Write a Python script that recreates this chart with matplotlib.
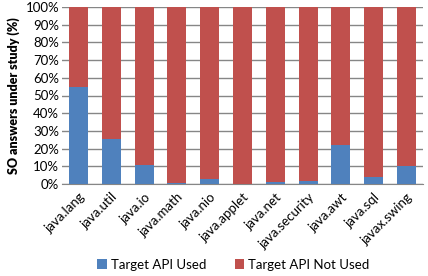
import matplotlib
matplotlib.use("Agg")
import matplotlib.pyplot as plt
import numpy as np

packages = ["java.lang", "java.util", "java.io", "java.math", "java.nio", "java.applet",
            "java.net", "java.security", "java.awt", "java.sql", "javax.swing"]
used = [55, 25.5, 10.5, 0.5, 3, 0, 1.2, 1.7, 22, 4, 10]
not_used = [100 - u for u in used]

plt.rcParams['font.family'] = ['Lato', 'DejaVu Sans']

fig = plt.figure(figsize=(4.28, 2.76), dpi=100)
ax = fig.add_axes([62/428, 1 - 184/276, 361/428, 177/276])

x = np.arange(len(packages))
ax.bar(x, used, width=0.58, color='#4f81bd', label='Target API Used', zorder=3)
ax.bar(x, not_used, bottom=used, width=0.58, color='#c0504d', label='Target API Not Used', zorder=3)

ax.set_xlim(-0.5, len(packages) - 0.5)
ax.set_ylim(0, 100)
ax.set_yticks(range(0, 101, 10))
ax.set_yticklabels([f"{v}%" for v in range(0, 101, 10)], fontsize=9.5)
ax.yaxis.grid(True, color='#868686', linewidth=1, zorder=0)
ax.set_xticks(x)
ax.set_xticklabels(packages, rotation=45, ha='right', rotation_mode='anchor', fontsize=9.5)
ax.tick_params(axis='both', length=0)
ax.tick_params(axis='y', pad=2)
ax.tick_params(axis='x', pad=5)
for s in ['top', 'right', 'left']:
    ax.spines[s].set_visible(False)
ax.spines['bottom'].set_color('#868686')
ax.set_ylabel('SO answers under study (%)', fontsize=9, fontweight='heavy', labelpad=4)

ax.legend(loc='center', bbox_to_anchor=(0.475, -0.455), ncol=2, frameon=False,
          fontsize=9.5, handlelength=0.7, handleheight=0.7, handletextpad=0.3, columnspacing=2.2)

fig.savefig("out.png", dpi=100)
